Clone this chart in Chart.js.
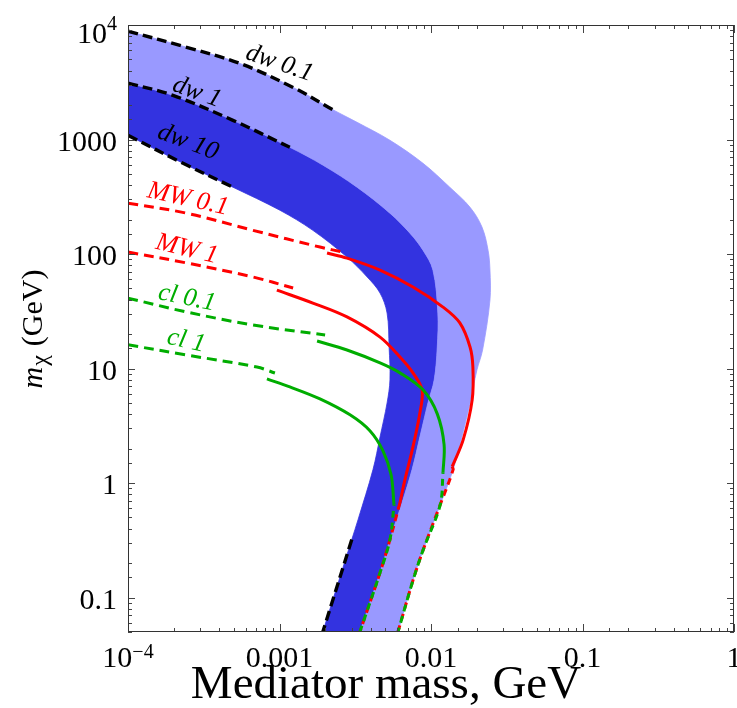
<!DOCTYPE html>
<html>
<head>
<meta charset="utf-8">
<script src="https://cdn.jsdelivr.net/npm/chart.js@4.4.1/dist/chart.umd.min.js"></script>
<style>
body { margin: 0; background: #fff; }
#wrap { width: 737px; height: 708px; }
</style>
</head>
<body>
<div id="wrap"><canvas id="mxChart"></canvas></div>
<script>
// band edges (x = mediator mass GeV, y = m_chi GeV)
var dw01X = [1e-4, 2.44e-4, 5.48e-4, 1.23e-3, 2.25e-3, 3.25e-3, 5.36e-3, 8.85e-3, 1.33e-2, 1.81e-2, 2.17e-2, 2.38e-2, 2.45e-2, 2.45e-2, 2.19e-2, 2.01e-2, 1.81e-2, 1.60e-2, 1.40e-2, 1.15e-2, 8.89e-3, 7.64e-3, 6.05e-3];
var dw01Y = [8830, 6390, 4620, 2850, 1820, 1413, 984, 620, 383, 256, 172, 108, 72.4, 39.6, 14.5, 9.72, 5.01, 2.53, 1.31, 0.646, 0.262, 0.144, 0.05];

var dw1X = [1e-4, 1.98e-4, 4.93e-4, 1.17e-3, 1.94e-3, 3.25e-3, 5.36e-3, 7.26e-3, 8.85e-3, 1.03e-2, 1.11e-2, 1.10e-2, 1.05e-2, 9.55e-3, 8.45e-3, 7.50e-3, 6.44e-3, 5.36e-3, 4.61e-3, 3.39e-3];
var dw1Y = [3110, 2430, 1470, 855, 596, 383, 227, 152, 108, 72.4, 30.5, 15.4, 7.96, 5.01, 2.53, 1.31, 0.673, 0.321, 0.165, 0.05];

var dw10X = [1e-4, 2.31e-4, 4.93e-4, 1.007e-3, 1.66e-3, 2.79e-3, 3.79e-3, 4.61e-3, 5.13e-3, 5.29e-3, 5.36e-3, 5.13e-3, 4.61e-3, 4.14e-3, 3.30e-3, 3.00e-3, 1.93e-3];
var dw10Y = [1088, 620, 383, 241, 161, 94, 63, 45.6, 30.5, 15.4, 7.96, 5.01, 2.53, 1.31, 0.479, 0.321, 0.05];

// where the black dashed parts of the dw edges stop
var dwDashEnd = [2.3e-3, 1.2e-3, 5e-4];
var dw10LowDashTop = 0.33;

// MW (red) and cl (green) curves: dashed start, solid part
var mw01DashX = [1e-4, 2.45e-4, 6.68e-4, 1.85e-3, 2.62e-3];
var mw01DashY = [278, 227, 161, 115, 104];
var mw01X = [2.06e-3, 2.79e-3, 4.61e-3, 7.60e-3, 1.20e-2, 1.55e-2, 1.81e-2, 1.89e-2, 1.87e-2, 1.63e-2, 1.38e-2];
var mw01Y = [102, 92.1, 72.4, 51.5, 34.4, 25.0, 15.4, 10.3, 5.32, 2.38, 1.39];

var mw1DashX = [1e-4, 2.45e-4, 6.68e-4, 1.23e-3];
var mw1DashY = [104, 83.4, 63, 50.5];
var mw1X = [9.61e-4, 1.66e-3, 2.79e-3, 4.61e-3, 6.24e-3, 7.60e-3, 8.73e-3, 8.45e-3, 7.60e-3, 6.73e-3, 6.24e-3];
var mw1Y = [48.4, 37.3, 28.2, 18.8, 12.6, 9.16, 6.51, 4.10, 2.07, 1.07, 0.673];

var cl01DashX = [1e-4, 2.45e-4, 6.68e-4, 2.0e-3];
var cl01DashY = [41.2, 31.1, 24.0, 19.6];
var cl01X = [1.77e-3, 2.79e-3, 4.61e-3, 6.24e-3, 8.85e-3, 1.10e-2, 1.22e-2, 1.20e-2];
var cl01Y = [17.4, 14.5, 11.2, 9.16, 6.51, 4.02, 2.16, 1.23];

var cl1DashX = [1e-4, 2.45e-4, 7.10e-4, 9.33e-4];
var cl1DashY = [16.1, 13.1, 10.3, 9.14];
var cl1X = [8.26e-4, 1.17e-3, 1.85e-3, 2.92e-3, 3.95e-3, 4.82e-3, 5.45e-3, 5.70e-3];
var cl1Y = [8.11, 6.91, 5.43, 3.94, 2.86, 1.91, 1.18, 0.647];

// curve labels
var labelText = ['dw 0.1', 'dw 1', 'dw 10', 'MW 0.1', 'MW 1', 'cl 0.1', 'cl 1'];
var labelX = [1.0e-3, 2.85e-4, 2.49e-4, 2.49e-4, 2.45e-4, 2.45e-4, 2.42e-4];
var labelY = [4620, 2580, 946, 301, 110, 41.2, 17.4];
var labelAngle = [19, 20, 21, 12.5, 13.5, 11.5, 12.5];

// tick labels ('^' = superscript)
var xTickVals = [1e-4, 1e-3, 1e-2, 0.1, 1];
var xTickText = ['10^\u22124', '0.001', '0.01', '0.1', '1'];
var yTickVals = [0.1, 1, 10, 100, 1000, 10000];
var yTickText = ['0.1', '1', '10', '100', '1000', '10^4'];

var RED = '#ff0000', GREEN = '#00ad00', BLACK = '#000000';
var DARK = '#3333e0', LIGHT = '#9999ff';
var SERIF = '"Liberation Serif", "Times New Roman", serif';
var labelColor = [BLACK, BLACK, BLACK, RED, RED, GREEN, GREEN];

function pts(xs, ys) {
    return xs.map(function (x, i) { return { x: x, y: ys[i] }; });
}
// dashed continuation along a band edge, starting where the solid curve stops
function tail(xs, ys, edgeX, edgeY) {
    var last = { x: xs[xs.length - 1], y: ys[ys.length - 1] };
    return [last].concat(pts(edgeX, edgeY).filter(function (p) { return p.y < last.y; }));
}
// closed region between two edges; corner points doubled so the spline keeps sharp corners
function region(outer, inner) {
    var a = outer.slice(), b = inner.slice().reverse();
    a.push(a[a.length - 1]);
    b.unshift(b[0]);
    return a.concat(b);
}
function line(data, color, width, dash, offset, order) {
    return {
        data: data, showLine: true, fill: false, pointRadius: 0,
        borderColor: color, borderWidth: width, borderDash: dash || [],
        borderDashOffset: offset || 0, tension: 0.35, order: order
    };
}
function band(data, color) {
    return {
        data: data, showLine: true, fill: 'shape', pointRadius: 0,
        backgroundColor: color, borderColor: color, borderWidth: 0.8,
        tension: 0.35, order: 5
    };
}

var dwEdges = [pts(dw01X, dw01Y), pts(dw1X, dw1Y), pts(dw10X, dw10Y)];
var dashUpper = dwEdges.map(function (e, i) {
    return e.filter(function (p) { return p.x <= dwDashEnd[i] && p.y > 100; });
});
var dash10Low = dwEdges[2].filter(function (p) { return p.y <= dw10LowDashTop; });

var datasets = [
    band(region(dwEdges[0], dwEdges[1]), LIGHT),
    band(region(dwEdges[1], dwEdges[2]), DARK),

    line(pts(mw01DashX, mw01DashY), RED, 3, [10, 6], 0, 3),
    line(pts(mw01X, mw01Y), RED, 3, null, 0, 3),
    line(tail(mw01X, mw01Y, dw01X, dw01Y), RED, 3, [7, 5], 0, 3),
    line(pts(mw1DashX, mw1DashY), RED, 3, [10, 6], 0, 3),
    line(pts(mw1X, mw1Y), RED, 3, null, 0, 3),
    line(tail(mw1X, mw1Y, dw1X, dw1Y), RED, 3, [7, 5], 0, 3),

    line(pts(cl01DashX, cl01DashY), GREEN, 3, [10, 6], 0, 2),
    line(pts(cl01X, cl01Y), GREEN, 3, null, 0, 2),
    line(tail(cl01X, cl01Y, dw01X, dw01Y), GREEN, 3, [7, 5], 6, 2),
    line(pts(cl1DashX, cl1DashY), GREEN, 3, [10, 6], 0, 2),
    line(pts(cl1X, cl1Y), GREEN, 3, null, 0, 2),
    line(tail(cl1X, cl1Y, dw1X, dw1Y), GREEN, 3, [7, 5], 6, 2),

    line(dashUpper[0], BLACK, 3.4, [10, 5], 0, 1),
    line(dashUpper[1], BLACK, 3.4, [10, 5], 0, 1),
    line(dashUpper[2], BLACK, 3.4, [10, 5], 0, 1),
    line(dash10Low, BLACK, 3.4, [10, 5], 0, 1)
];

function isMajor(v) {
    var l = Math.log10(v);
    return Math.abs(l - Math.round(l)) < 1e-6;
}

// text with an optional superscript after '^'
function drawPow(ctx, txt, x, y, align, size, raise) {
    var parts = txt.split('^');
    ctx.font = size + 'px ' + SERIF;
    var w0 = ctx.measureText(parts[0]).width;
    var w1 = 0;
    if (parts[1]) {
        ctx.font = Math.round(size * 0.68) + 'px ' + SERIF;
        w1 = ctx.measureText(parts[1]).width;
    }
    var total = w0 + w1;
    var start = align === 'right' ? x - total : x - total / 2;
    ctx.textAlign = 'left';
    ctx.textBaseline = 'alphabetic';
    ctx.font = size + 'px ' + SERIF;
    ctx.fillText(parts[0], start, y);
    if (parts[1]) {
        ctx.font = Math.round(size * 0.68) + 'px ' + SERIF;
        ctx.fillText(parts[1], start + w0, y - raise);
    }
}

var decor = {
    id: 'decor',
    afterDatasetsDraw: function (chart) {
        var ctx = chart.ctx, xs = chart.scales.x, ys = chart.scales.y;
        ctx.save();
        for (var i = 0; i < labelText.length; i++) {
            ctx.save();
            ctx.translate(xs.getPixelForValue(labelX[i]), ys.getPixelForValue(labelY[i]));
            ctx.rotate(labelAngle[i] * Math.PI / 180);
            ctx.font = 'italic 26px ' + SERIF;
            ctx.fillStyle = labelColor[i];
            ctx.textAlign = 'center';
            ctx.textBaseline = 'middle';
            ctx.fillText(labelText[i], 0, 0);
            ctx.restore();
        }
        ctx.restore();
    },
    afterDraw: function (chart) {
        var ctx = chart.ctx, a = chart.chartArea, xs = chart.scales.x, ys = chart.scales.y;
        ctx.save();
        ctx.strokeStyle = '#444';
        ctx.lineWidth = 1;
        ctx.beginPath();
        xs.ticks.forEach(function (t) {
            var px = Math.round(xs.getPixelForValue(t.value)) + 0.5;
            var len = isMajor(t.value) ? 8 : 4;
            ctx.moveTo(px, a.bottom); ctx.lineTo(px, a.bottom - len);
            ctx.moveTo(px, a.top); ctx.lineTo(px, a.top + len);
        });
        ys.ticks.forEach(function (t) {
            var py = Math.round(ys.getPixelForValue(t.value)) + 0.5;
            var len = isMajor(t.value) ? 7 : 4;
            ctx.moveTo(a.left, py); ctx.lineTo(a.left + len, py);
            ctx.moveTo(a.right, py); ctx.lineTo(a.right - len, py);
        });
        ctx.stroke();
        ctx.strokeStyle = '#333';
        ctx.strokeRect(a.left + 0.5, a.top + 0.5, a.right - a.left - 1, a.bottom - a.top - 1);

        ctx.fillStyle = '#000';
        xTickVals.forEach(function (v, i) {
            drawPow(ctx, xTickText[i], xs.getPixelForValue(v), 667, 'center', 30, 9);
        });
        yTickVals.forEach(function (v, i) {
            var off = yTickText[i].indexOf('^') >= 0 ? 18 : 11;
            drawPow(ctx, yTickText[i], 117, ys.getPixelForValue(v) + off, 'right', 30, 13);
        });

        // x title
        ctx.font = '47px ' + SERIF;
        ctx.textAlign = 'center';
        ctx.textBaseline = 'alphabetic';
        ctx.fillText('Mediator mass, GeV', 386, 698);

        // y title: italic m, subscript chi, (GeV)
        ctx.translate(42, 329);
        ctx.rotate(-Math.PI / 2);
        ctx.textAlign = 'left';
        ctx.font = 'italic 30px ' + SERIF;
        var wm = ctx.measureText('m').width;
        ctx.font = '24px ' + SERIF;
        var wc = ctx.measureText('\u03c7').width;
        ctx.font = '30px ' + SERIF;
        var wg = ctx.measureText('(GeV)').width;
        var gap = 10;
        var s = -(wm + wc + gap + wg) / 2;
        ctx.font = 'italic 30px ' + SERIF;
        ctx.fillText('m', s, 0);
        ctx.font = '24px ' + SERIF;
        ctx.fillText('\u03c7', s + wm + 1, 5);
        ctx.font = '30px ' + SERIF;
        ctx.fillText('(GeV)', s + wm + wc + gap, 0);
        ctx.restore();
    }
};

new Chart(document.getElementById('mxChart'), {
    type: 'scatter',
    data: { datasets: datasets },
    options: {
        responsive: true,
        maintainAspectRatio: false,
        animation: false,
        events: [],
        layout: { padding: { top: 25, right: 3, left: 0, bottom: 0 } },
        plugins: { legend: { display: false }, tooltip: { enabled: false } },
        scales: {
            x: {
                type: 'logarithmic', min: 1e-4, max: 1,
                grid: { display: false, drawTicks: false },
                border: { display: false },
                ticks: { display: false, autoSkip: false },
                afterFit: function (scale) { scale.height = 76; }
            },
            y: {
                type: 'logarithmic', min: 0.05, max: 10000,
                grid: { display: false, drawTicks: false },
                border: { display: false },
                ticks: { display: false, autoSkip: false },
                afterFit: function (scale) { scale.width = 128; }
            }
        }
    },
    plugins: [decor]
});
</script>
</body>
</html>
